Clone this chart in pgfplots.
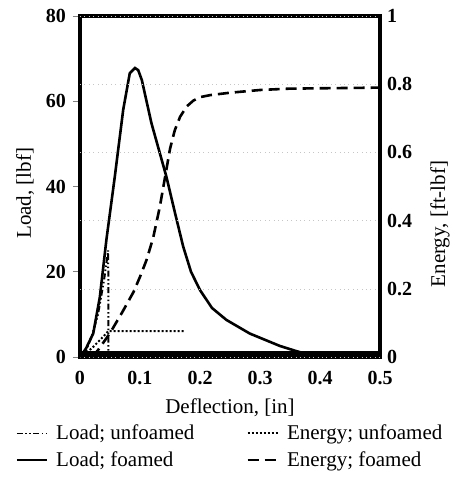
\documentclass[border=0pt]{standalone}
\usepackage{fontspec}
\setmainfont{Liberation Serif}
\usepackage{pgfplots}
\pgfplotsset{compat=1.18}
\pgfplotstableread{
x y
0 0
0.01 2
0.022 5.5
0.033 14
0.044 27.5
0.058 42.3
0.072 58
0.083 66.6
0.0917 67.8
0.097 67.3
0.103 65
0.119 54.9
0.144 42.3
0.158 34
0.172 25.9
0.185 20
0.2 15.7
0.22 11.5
0.244 8.7
0.283 5.5
0.333 2.6
0.36 1.4
0.38 0.6
0.4 0
0.5 0
}\loadfoamed
\pgfplotstableread{
x y
0 0
0.01 1.5
0.02 5
0.03 10
0.04 18
0.045 23
0.047 25
0.0475 0
0.5 0
}\loadunfoamed
\pgfplotstableread{
x y
0 0
0.01 0.012
0.02 0.026
0.03 0.044
0.04 0.062
0.047 0.076
0.175 0.076
}\energyunfoamed
\pgfplotstableread{
x y
0.02 0
0.03 0.02
0.05 0.07
0.07 0.13
0.089 0.19
0.1 0.235
0.111 0.285
0.122 0.35
0.133 0.44
0.142 0.53
0.15 0.61
0.158 0.665
0.167 0.705
0.178 0.735
0.189 0.752
0.2 0.762
0.217 0.768
0.25 0.775
0.3 0.783
0.35 0.787
0.5 0.79
}\energyfoamed
\tikzset{ddot/.style={line width=2pt, dash pattern=on 6pt off 2.5pt on 1.5pt off 2.5pt on 1.5pt off 2.5pt}}
\begin{document}
\fontsize{21}{24}\selectfont
\begin{tikzpicture}
\begin{axis}[
  name=main,
  scale only axis, width=300pt, height=341pt,
  xmin=0, xmax=0.5, ymin=0, ymax=80,
  separate axis lines,
  every outer x axis line/.append style={line width=3.2pt},
  every outer y axis line/.append style={line width=3.2pt},
  axis line style={line width=3.2pt},
  xtick={0,0.1,0.2,0.3,0.4,0.5},
  xticklabels={0,0.1,0.2,0.3,0.4,0.5},
  minor xtick={0.05,0.15,0.25,0.35,0.45},
  ytick={0,20,40,60,80},
  yticklabels={0,20,40,60,80},
  xtick pos=bottom, ytick pos=left,
  tick align=outside,
  xtick style={draw=none},
  minor tick length=5pt,
  minor tick style={line width=0.8pt},
  major tick length=7pt,
  ytick style={line width=0.8pt},
  ticklabel style={font=\fontsize{20}{24}\selectfont\bfseries},
  xlabel={Deflection, [in]},
  ylabel={Load, [lbf]},
  xlabel style={at={(axis description cs:0.5,-0.15)}, anchor=center, font=\fontsize{21}{24}\selectfont},
  ylabel style={at={(axis description cs:-0.183,0.48)}, anchor=center, font=\fontsize{21}{24}\selectfont},
  clip=false,
]
\addplot[black, ddot] table {\loadunfoamed};
\addplot[black, line width=2.6pt] table {\loadfoamed};
\draw[line width=3.2pt, line join=miter] (rel axis cs:0,0) rectangle (rel axis cs:1,1);
\draw[line width=7pt] (axis cs:0,0.7) -- (axis cs:0.5,0.7);
\end{axis}
\begin{axis}[
  scale only axis, width=300pt, height=341pt,
  xmin=0, xmax=0.5, ymin=0, ymax=1,
  axis x line=none, axis y line*=right,
  axis line style={line width=3.2pt},
  ytick={0,0.2,0.4,0.6,0.8,1},
  yticklabels={0,0.2,0.4,0.6,0.8,1},
  major tick length=0pt,
  ymajorgrids, grid style={loosely dotted, gray!45, line width=0.5pt},
  ticklabel style={font=\fontsize{20}{24}\selectfont\bfseries},
  ylabel={Energy, [ft-lbf]},
  ylabel style={at={(axis description cs:1.2,0.39)}, anchor=center, font=\fontsize{21}{24}\selectfont},
  legend columns=2,
  legend style={draw=none, fill=none, at={(0.5,-0.185)}, anchor=north,
    font=\fontsize{21}{24}\selectfont, row sep=5pt,
    /tikz/every odd column/.append style={column sep=6pt},
    /tikz/every even column/.append style={column sep=50pt}},
  legend cell align=left,
  legend image code/.code={\draw[#1] (0pt,0pt) -- (30pt,0pt);},
]
\addlegendimage{black, ddot, line width=1.4pt}
\addlegendentry{Load; unfoamed}
\addplot[black, line width=2pt, dotted] table {\energyunfoamed};
\addlegendentry{Energy; unfoamed}
\addlegendimage{black, line width=2.6pt}
\addlegendentry{Load; foamed}
\addplot[black, line width=2.6pt, dash pattern=on 11pt off 6pt] table {\energyfoamed};
\addlegendentry{Energy; foamed}
\end{axis}
\path (main.south west) +(-80pt,-121pt) (main.north east) +(83pt,16pt);
\end{tikzpicture}
\end{document}
